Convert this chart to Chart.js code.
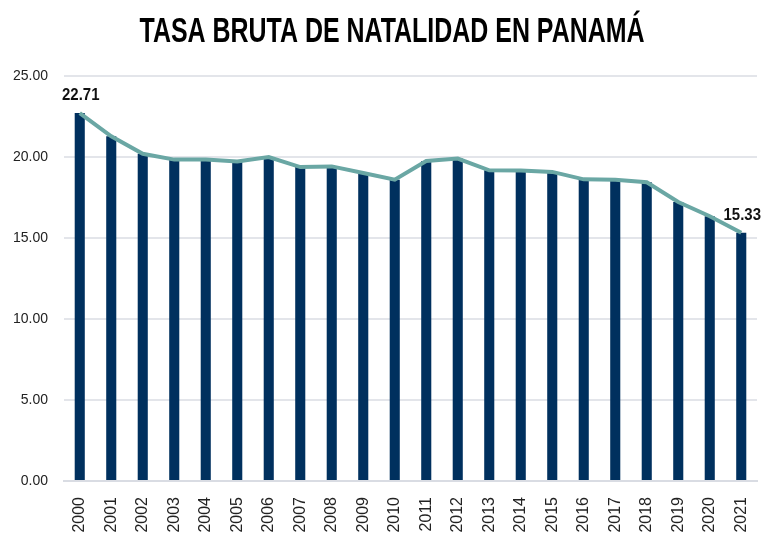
<!DOCTYPE html>
<html>
<head>
<meta charset="utf-8">
<script src="https://cdn.jsdelivr.net/npm/chart.js@4/dist/chart.umd.min.js"></script>
<style>
  html, body { margin: 0; padding: 0; background: #fff; }
  #wrap { width: 776px; height: 539px; }
</style>
</head>
<body>
<div id="wrap"><canvas id="chart"></canvas></div>
<script>
// datos
const years = ["2000", "2001", "2002", "2003", "2004", "2005", "2006", "2007", "2008", "2009", "2010",
  "2011", "2012", "2013", "2014", "2015", "2016", "2017", "2018", "2019", "2020", "2021"];
const tasa = [22.71, 21.28, 20.2, 19.84, 19.84, 19.73, 20.0, 19.38, 19.42, 19.01, 18.6,
  19.75, 19.9, 19.18, 19.17, 19.08, 18.62, 18.6, 18.44, 17.22, 16.34, 15.33];
const yTicks = [0, 5, 10, 15, 20, 25];
const labelIdx = [0, years.length - 1]; // solo primero y último llevan etiqueta
const titulo = "TASA BRUTA DE NATALIDAD EN PANAMÁ";

const sans = "'Liberation Sans', Arial, sans-serif";

// título estrecho (no hay Arial Narrow, se comprime a mano)
const narrowTitle = {
  id: "narrowTitle",
  afterDraw(chart) {
    const ctx = chart.ctx;
    ctx.save();
    ctx.font = "bold 35px " + sans;
    const w = ctx.measureText(titulo).width;
    const sx = 505 / w;
    ctx.translate(chart.width / 2 + 4, 42);
    ctx.scale(sx, 1);
    ctx.fillStyle = "#000";
    ctx.textAlign = "center";
    ctx.textBaseline = "alphabetic";
    ctx.fillText(titulo, 0, 0);
    ctx.restore();
  }
};

// etiquetas del primer y último punto
const pointLabels = {
  id: "pointLabels",
  afterDatasetsDraw(chart) {
    const meta = chart.getDatasetMeta(1);
    const ctx = chart.ctx;
    ctx.save();
    ctx.font = "bold 17px " + sans;
    ctx.fillStyle = "#111";
    ctx.textAlign = "center";
    ctx.textBaseline = "alphabetic";
    labelIdx.forEach(i => {
      const p = meta.data[i];
      ctx.save();
      ctx.translate(p.x + 1, p.y - 13);
      ctx.scale(0.88, 1);
      ctx.fillText(tasa[i].toFixed(2), 0, 0);
      ctx.restore();
    });
    ctx.restore();
  }
};

new Chart(document.getElementById("chart"), {
  data: {
    labels: years,
    datasets: [
      {
        type: "bar",
        data: tasa,
        backgroundColor: "#00305e",
        barPercentage: 0.32,
        categoryPercentage: 1,
        order: 2
      },
      {
        type: "line",
        data: tasa,
        borderColor: "#6aa7a4",
        borderWidth: 4,
        pointRadius: 0,
        tension: 0,
        fill: false,
        order: 1
      }
    ]
  },
  options: {
    responsive: true,
    maintainAspectRatio: false,
    animation: false,
    layout: { padding: { left: 12, right: 19, top: 76, bottom: 3 } },
    plugins: {
      legend: { display: false },
      tooltip: { enabled: false },
      title: { display: false }
    },
    scales: {
      x: {
        grid: { display: false, drawTicks: false },
        border: { color: "#d9dce3", width: 2 },
        afterFit: axis => { axis.height = 55; axis.paddingLeft = 0; axis.paddingRight = 0; },
        ticks: {
          color: "#222",
          font: { family: sans, size: 16 },
          maxRotation: 90,
          minRotation: 90,
          padding: 16
        }
      },
      y: {
        min: 0,
        max: 25,
        afterBuildTicks: axis => { axis.ticks = yTicks.map(v => ({ value: v })); },
        afterFit: axis => { axis.width = 52; axis.paddingTop = 0; axis.paddingBottom = 0; },
        grid: { color: "#e3e5ea", lineWidth: 2, drawTicks: false },
        border: { display: false },
        ticks: {
          color: "#222",
          font: { family: sans, size: 14 },
          padding: 16,
          callback: v => v.toFixed(2)
        }
      }
    }
  },
  plugins: [pointLabels, narrowTitle]
});
</script>
</body>
</html>
